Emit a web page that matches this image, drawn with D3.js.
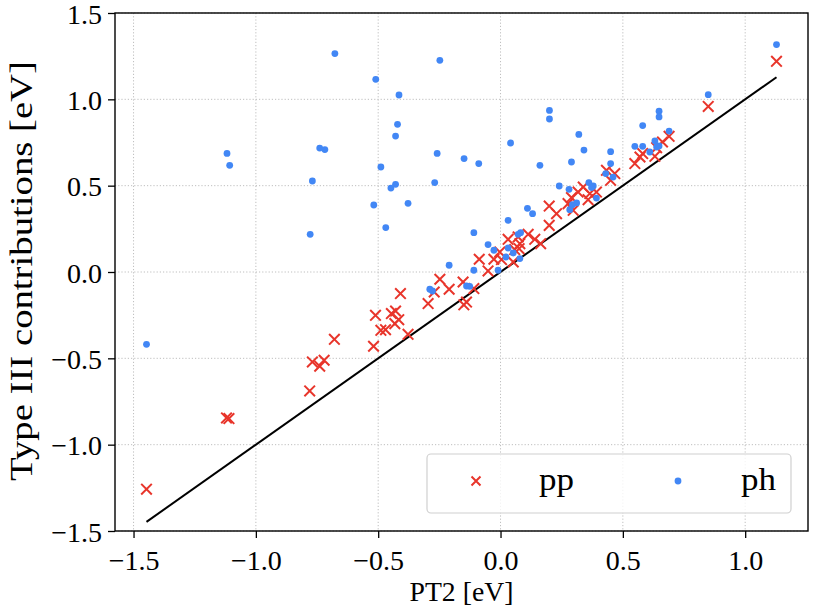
<!DOCTYPE html>
<html>
<head>
<meta charset="utf-8">
<script src="https://cdn.jsdelivr.net/npm/d3@7"></script>
<style>
  body { margin: 0; background: #fff; }
  svg text { font-family: "Liberation Serif", "DejaVu Serif", serif; fill: #000; }
</style>
</head>
<body>
<svg id="chart" width="813" height="611"></svg>
<script>
// pp series: PT2 value vs Type III contribution (eV)
var ppX = [-1.447, -1.120, -1.110, -0.780, -0.769, -0.739, -0.721, -0.679, -0.519, -0.511,
    -0.489, -0.470, -0.446, -0.429, -0.432, -0.416, -0.378, -0.409, -0.296, -0.271,
    -0.248, -0.210, -0.153, -0.109, -0.139, -0.150, -0.087, -0.051, -0.027, -0.003,
    0.004, 0.052, 0.031, 0.058, 0.079, 0.113, 0.140, 0.164, 0.199, 0.199,
    0.229, 0.276, 0.290, 0.297, 0.317, 0.338, 0.358, 0.365, 0.392, 0.433,
    0.467, 0.450, 0.549, 0.570, 0.581, 0.631, 0.638, 0.662, 0.689, 0.849,
    1.128, 0.076, 0.072];
var ppY = [-1.258, -0.845, -0.849, -0.689, -0.521, -0.546, -0.511, -0.390, -0.430, -0.251,
    -0.338, -0.334, -0.241, -0.226, -0.299, -0.276, -0.361, -0.125, -0.183, -0.116,
    -0.042, -0.100, -0.058, -0.096, -0.174, -0.190, 0.074, 0.006, 0.074, 0.116,
    0.072, 0.058, 0.189, 0.130, 0.164, 0.218, 0.189, 0.164, 0.382, 0.270,
    0.338, 0.396, 0.431, 0.357, 0.463, 0.492, 0.419, 0.454, 0.463, 0.589,
    0.570, 0.531, 0.628, 0.666, 0.686, 0.670, 0.720, 0.753, 0.786, 0.959,
    1.220, 0.135, 0.203];

// ph series
var phX = [-1.447, -1.118, -1.107, -0.778, -0.769, -0.739, -0.718, -0.677, -0.518, -0.510,
    -0.489, -0.469, -0.448, -0.429, -0.429, -0.421, -0.415, -0.378, -0.269, -0.259,
    -0.248, -0.149, -0.089, -0.109, -0.210, -0.289, -0.278, -0.139, -0.126, -0.109,
    -0.051, -0.027, -0.010, 0.022, 0.031, 0.052, 0.079, 0.031, 0.072, 0.082,
    0.041, 0.110, 0.131, 0.161, 0.200, 0.200, 0.240, 0.280, 0.290, 0.320,
    0.341, 0.361, 0.379, 0.372, 0.392, 0.311, 0.294, 0.283, 0.430, 0.460,
    0.450, 0.450, 0.549, 0.581, 0.581, 0.610, 0.631, 0.638, 0.648, 0.648,
    0.648, 0.689, 0.849, 1.128];
var phY = [-0.419, 0.687, 0.618, 0.218, 0.527, 0.718, 0.709, 1.265, 0.388, 1.116,
    0.608, 0.257, 0.486, 0.508, 0.787, 0.855, 1.025, 0.398, 0.518, 0.687,
    1.226, 0.657, 0.628, 0.228, 0.039, -0.100, -0.110, -0.081, -0.083, 0.010,
    0.159, 0.126, 0.010, 0.087, 0.139, 0.110, 0.078, 0.299, 0.218, 0.228,
    0.747, 0.369, 0.338, 0.618, 0.936, 0.886, 0.498, 0.479, 0.637, 0.797,
    0.706, 0.518, 0.498, 0.489, 0.428, 0.400, 0.390, 0.361, 0.570, 0.550,
    0.697, 0.628, 0.728, 0.728, 0.848, 0.695, 0.759, 0.724, 0.730, 0.931,
    0.898, 0.816, 1.027, 1.317];

var xTicks = [-1.5, -1.0, -0.5, 0.0, 0.5, 1.0];
var yTicks = [-1.5, -1.0, -0.5, 0.0, 0.5, 1.0, 1.5];
var legendLabels = ["pp", "ph"];

var RED = "#e8352b", BLUE = "#4287f5";

var svg = d3.select("#chart");
var margin = {left: 115, top: 13, right: 5, bottom: 80};
var W = 813 - margin.left - margin.right,
    H = 611 - margin.top - margin.bottom;

var g = svg.append("g").attr("transform", "translate(" + margin.left + "," + margin.top + ")");

// matplotlib style 5% padding on x, fixed y
var allX = ppX.concat(phX);
var xmin = d3.min(allX), xmax = d3.max(allX), pad = (xmax - xmin) * 0.05;
var x = d3.scaleLinear().domain([xmin - pad, xmax + pad]).range([0, W]);
var y = d3.scaleLinear().domain([-1.5, 1.5]).range([H, 0]);

var fmt = function(d) { return d3.format(".1f")(d).replace("-", "\u2212"); };

// grid
g.append("g").selectAll("line").data(xTicks).enter().append("line")
    .attr("x1", function(d) { return x(d); }).attr("x2", function(d) { return x(d); })
    .attr("y1", 0).attr("y2", H)
    .attr("stroke", "#b8b8b8").attr("stroke-width", 0.9).attr("stroke-dasharray", "1.2,2");
g.append("g").selectAll("line").data(yTicks).enter().append("line")
    .attr("y1", function(d) { return y(d); }).attr("y2", function(d) { return y(d); })
    .attr("x1", 0).attr("x2", W)
    .attr("stroke", "#b8b8b8").attr("stroke-width", 0.9).attr("stroke-dasharray", "1.2,2");

// y = x reference line
var lineLo = d3.min(allX), lineHi = d3.max(allX);
g.append("line")
    .attr("x1", x(lineLo)).attr("y1", y(lineLo))
    .attr("x2", x(lineHi)).attr("y2", y(lineHi))
    .attr("stroke", "#000").attr("stroke-width", 2);

var cross = function(sel, s) {
    sel.append("path")
        .attr("d", "M" + (-s) + "," + (-s) + "L" + s + "," + s + "M" + (-s) + "," + s + "L" + s + "," + (-s))
        .attr("stroke", RED).attr("stroke-width", 2).attr("fill", "none");
};

// pp markers
var ppData = d3.zip(ppX, ppY);
g.append("g").selectAll("g").data(ppData).enter().append("g")
    .attr("transform", function(d) { return "translate(" + x(d[0]) + "," + y(d[1]) + ")"; })
    .each(function() { cross(d3.select(this), 5.3); });

// ph markers
var phData = d3.zip(phX, phY);
g.append("g").selectAll("circle").data(phData).enter().append("circle")
    .attr("cx", function(d) { return x(d[0]); })
    .attr("cy", function(d) { return y(d[1]); })
    .attr("r", 3.4).attr("fill", BLUE);

// axes
var xAxis = g.append("g").attr("transform", "translate(0," + H + ")")
    .call(d3.axisBottom(x).tickValues(xTicks).tickFormat(fmt).tickSize(7).tickPadding(6));
var yAxis = g.append("g")
    .call(d3.axisLeft(y).tickValues(yTicks).tickFormat(fmt).tickSize(7).tickPadding(6));
[xAxis, yAxis].forEach(function(a) {
    a.select(".domain").remove();
    a.selectAll(".tick line").attr("stroke", "#000").attr("stroke-width", 1.3);
    a.selectAll(".tick text").style("font-size", "28px").style("font-family", null);
});
xAxis.selectAll(".tick text").attr("dy", "0.92em");
yAxis.selectAll(".tick text").attr("dy", "0.36em");

g.append("rect").attr("width", W).attr("height", H)
    .attr("fill", "none").attr("stroke", "#000").attr("stroke-width", 1.4);

// axis labels
svg.append("text")
    .attr("x", margin.left + W / 2).attr("y", 601)
    .attr("text-anchor", "middle").style("font-size", "28px")
    .attr("textLength", 104).attr("lengthAdjust", "spacingAndGlyphs")
    .text("PT2 [eV]");
svg.append("text")
    .attr("transform", "translate(32," + (margin.top + H / 2 - 1) + ") rotate(-90)")
    .attr("text-anchor", "middle").style("font-size", "31px")
    .attr("textLength", 420).attr("lengthAdjust", "spacingAndGlyphs")
    .text("Type III contributions [eV]");

// legend
var leg = svg.append("g");
leg.append("rect")
    .attr("x", 427).attr("y", 454).attr("width", 364).attr("height", 59)
    .attr("rx", 4).attr("fill", "#fff").attr("fill-opacity", 0.8)
    .attr("stroke", "#d0d0d0").attr("stroke-width", 1.2);
var legItems = [{lab: legendLabels[0], mx: 476, tx: 539}, {lab: legendLabels[1], mx: 678, tx: 741}];
legItems.forEach(function(it, i) {
    if (i === 0) {
        cross(leg.append("g").attr("transform", "translate(" + it.mx + ",481)"), 4.5);
    } else {
        leg.append("circle").attr("cx", it.mx).attr("cy", 481).attr("r", 3.4).attr("fill", BLUE);
    }
    leg.append("text").attr("x", it.tx).attr("y", 490).style("font-size", "31px")
        .attr("textLength", 35).attr("lengthAdjust", "spacingAndGlyphs").text(it.lab);
});
</script>
</body>
</html>
